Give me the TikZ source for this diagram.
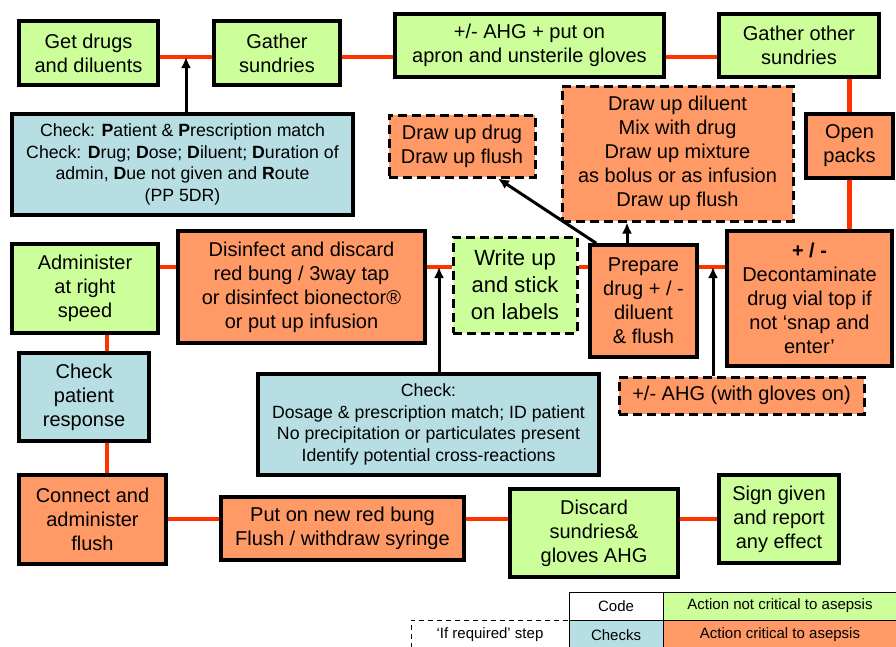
\documentclass[tikz,border=0pt]{standalone}
\usepackage{fontspec}
\setmainfont{Liberation Sans}
\usetikzlibrary{arrows.meta,backgrounds}

\definecolor{actgreen}{RGB}{204,255,153}
\definecolor{actorange}{RGB}{255,153,102}
\definecolor{chkblue}{RGB}{183,223,227}
\definecolor{linered}{RGB}{255,51,0}

\tikzset{
  box/.style={draw=black, line width=3.5pt, align=center, inner sep=0pt,
    font=\fontsize{20}{24}\selectfont},
  act/.style={box, fill=actgreen},
  crit/.style={box, fill=actorange},
  chk/.style={box, fill=chkblue, font=\fontsize{17.7}{21.5}\selectfont},
  ifreq/.style={line width=3pt, dash pattern=on 9pt off 5pt},
  flow/.style={draw=linered, line width=4.5pt},
  arr/.style={draw=black, line width=3pt, -{Latex[length=11pt,width=10pt]}},
  key/.style={draw=black, line width=0.8pt, inner sep=0pt,
    font=\fontsize{15}{18}\selectfont}
}

\begin{document}
\begin{tikzpicture}[x=1pt,y=-1pt]
  \useasboundingbox (0,0) rectangle (896,646);

  % top row
  \node[act, minimum width=139pt, minimum height=64pt] (drugs) at (88.5,53) {Get drugs\\and diluents};
  \node[act, minimum width=126pt, minimum height=64pt] (gather) at (277,53) {Gather\\sundries};
  \node[act, minimum width=269pt, minimum height=63pt] (apron) at (529.5,45.5) {+/- AHG + put on\\apron and unsterile gloves};
  \node[act, minimum width=160pt, minimum height=63pt] (other) at (799,45.5) {Gather other\\sundries};
  \node[crit, minimum width=87pt, minimum height=64pt] (open) at (849.5,146) {Open\\packs};
  \node[chk, minimum width=341pt, minimum height=101pt] (chk1) at (182.5,164.5)
    {Check: \textbf{P}atient \& \textbf{P}rescription match\\
     Check: \textbf{D}rug; \textbf{D}ose; \textbf{D}iluent; \textbf{D}uration of\\
     admin, \textbf{D}ue not given and \textbf{R}oute\\(PP 5DR)};
  \node[crit, ifreq, minimum width=146pt, minimum height=62pt] (drawdrug) at (462,146) {Draw up drug\\Draw up flush};
  \node[crit, ifreq, minimum width=231pt, minimum height=135pt] (mix) at (677.5,153.5)
    {Draw up diluent\\Mix with drug\\Draw up mixture\\as bolus or as infusion\\Draw up flush};

  % middle row
  \node[act, minimum width=146pt, minimum height=89pt] (admin) at (85,288.5) {Administer\\at right\\speed};
  \node[crit, minimum width=247pt, minimum height=112pt] (disinf) at (301.5,287)
    {Disinfect and discard\\red bung / 3way tap\\or disinfect bionector®\\or put up infusion};
  \node[act, ifreq, minimum width=124pt, minimum height=96pt, font=\fontsize{22}{27}\selectfont] (writeup) at (515,285)
    {Write up\\and stick\\on labels};
  \node[crit, minimum width=107pt, minimum height=112pt] (prep) at (643.5,301) {Prepare\\drug + / -\\diluent\\\& flush};
  \node[crit, minimum width=165pt, minimum height=135pt] (decont) at (809.5,298.5)
    {\textbf{+ / -}\\Decontaminate\\drug vial top if\\not ‘snap and\\enter’};
  \node[crit, ifreq, minimum width=245pt, minimum height=37pt] (ahg) at (741.5,395.5) {+/- AHG (with gloves on)};
  \node[chk, minimum width=341pt, minimum height=101pt] (chk2) at (428.5,424.5)
    {Check:\\Dosage \& prescription match; ID patient\\No precipitation or particulates present\\Identify potential cross-reactions};
  \node[chk, font=\fontsize{20}{24}\selectfont, minimum width=130pt, minimum height=88pt] (response) at (84,397)
    {Check\\patient\\response};

  % bottom row
  \node[crit, minimum width=147pt, minimum height=89pt] (connect) at (92.5,519.5) {Connect and\\administer\\flush};
  \node[crit, minimum width=243pt, minimum height=63pt] (newbung) at (342.5,528.5) {Put on new red bung\\Flush / withdraw syringe};
  \node[act, minimum width=168pt, minimum height=88pt] (discard) at (594,533) {Discard\\sundries\&\\gloves AHG};
  \node[act, minimum width=120pt, minimum height=88pt] (sign) at (779,519) {Sign given\\and report\\any effect};

  % key
  \node[key, fill=white, minimum width=94pt, minimum height=28pt] (code) at (616,606) {Code};
  \node[key, fill=actgreen, minimum width=234pt, minimum height=28pt] (keyact) at (780,606) {Action not critical to asepsis};
  \node[key, fill=chkblue, minimum width=94pt, minimum height=30pt] (keychk) at (616,635) {Checks};
  \node[key, fill=actorange, minimum width=234pt, minimum height=30pt] (keycrit) at (780,635) {Action critical to asepsis};
  \node[key, dash pattern=on 5pt off 4pt, minimum width=158pt, minimum height=30pt] (keyif) at (490,635) {‘If required’ step};

  % red flow lines
  \coordinate (row1) at (0,57);
  \coordinate (row2) at (0,267);
  \coordinate (row3) at (0,519);
  \coordinate (colL) at (107,0);
  \begin{scope}[on background layer]
    \draw[flow] (drugs.east |- row1) -- (gather.west |- row1);
    \draw[flow] (gather.east |- row1) -- (apron.west |- row1);
    \draw[flow] (apron.east |- row1) -- (other.west |- row1);
    \draw[flow] (open.north |- other.south) -- (open.north);
    \draw[flow] (open.south) -- (open.south |- decont.north);
    \draw[flow] (decont.west |- row2) -- (prep.east |- row2);
    \draw[flow] (prep.west |- row2) -- (writeup.east |- row2);
    \draw[flow] (writeup.west |- row2) -- (disinf.east |- row2);
    \draw[flow] (disinf.west |- row2) -- (admin.east |- row2);
    \draw[flow] (colL |- admin.south) -- (colL |- response.north);
    \draw[flow] (colL |- response.south) -- (colL |- connect.north);
    \draw[flow] (connect.east |- row3) -- (newbung.west |- row3);
    \draw[flow] (newbung.east |- row3) -- (discard.west |- row3);
    \draw[flow] (discard.east |- row3) -- (sign.west |- row3);
  \end{scope}

  % check and step arrows
  \draw[arr] ([xshift=3.5pt]chk1.north) -- ([xshift=3.5pt]chk1.north |- row1);
  \draw[arr] ([xshift=10.5pt]chk2.north) -- ([xshift=10.5pt]chk2.north |- row2);
  \draw[arr] ([xshift=-28.5pt]ahg.north) -- ([xshift=-28.5pt]ahg.north |- row2);
  \draw[arr] ([xshift=8pt]prep.north west) -- ([xshift=36pt]drawdrug.south);
  \draw[arr] ([xshift=-16.5pt]prep.north) -- ([xshift=-16.5pt]prep.north |- mix.south);
\end{tikzpicture}
\end{document}
